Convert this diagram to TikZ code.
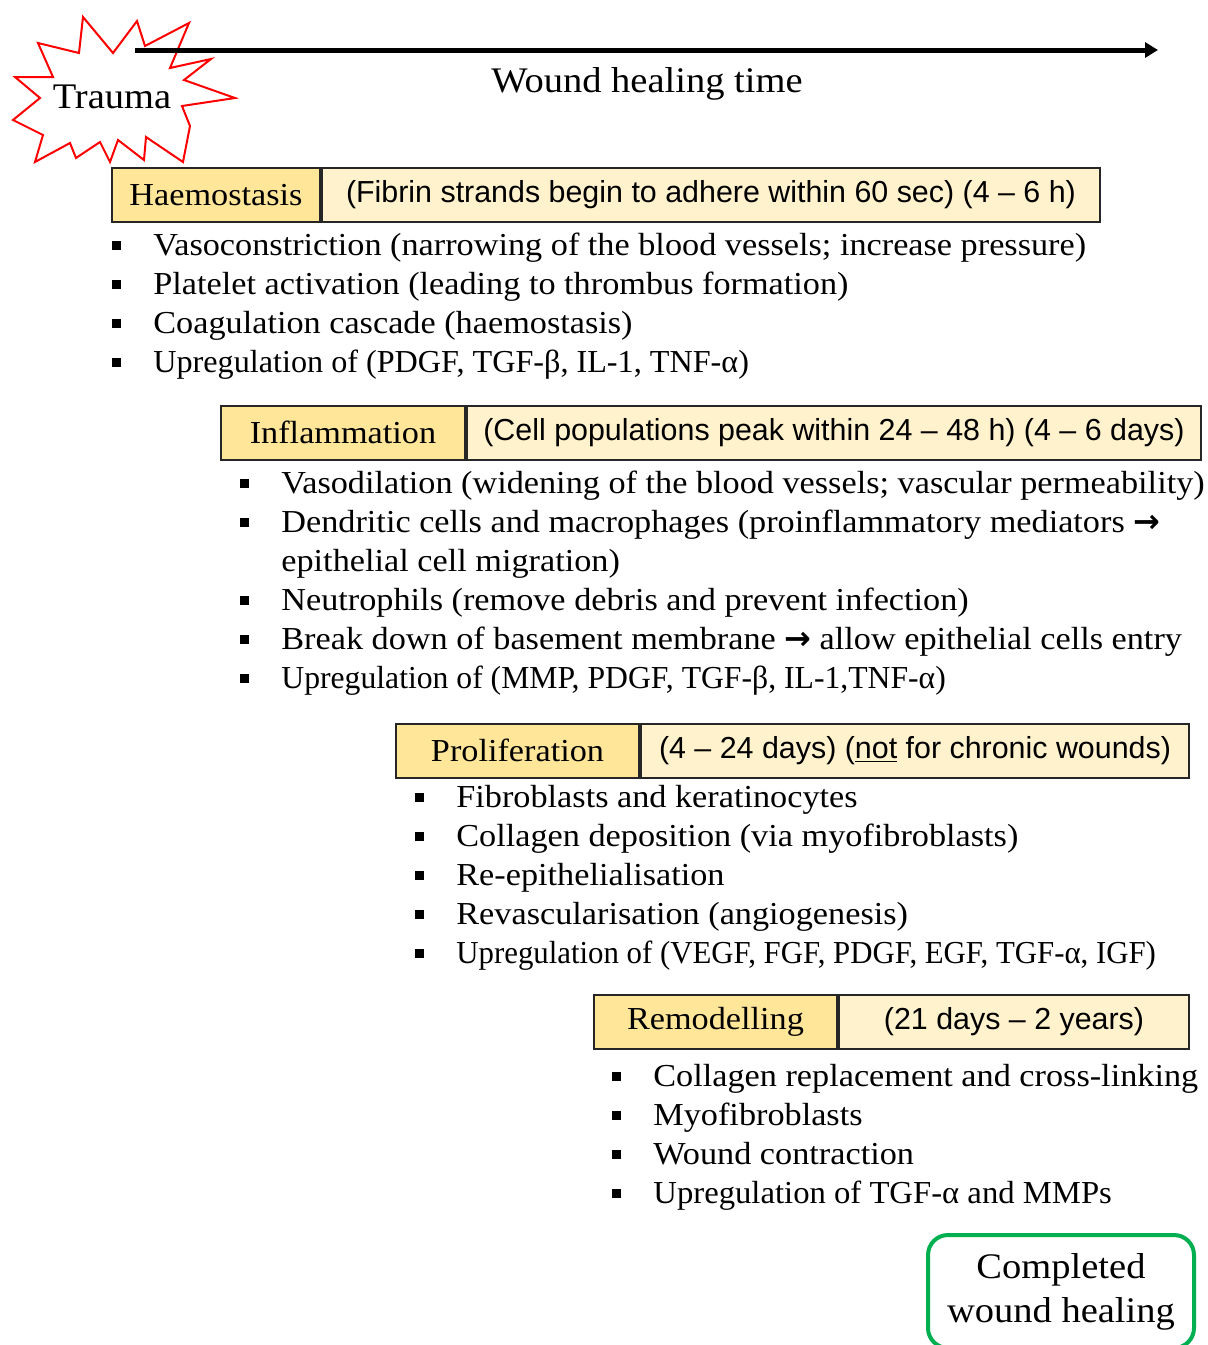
\documentclass[tikz,border=0pt]{standalone}
\usepackage{fontspec}
\setmainfont{Liberation Serif}[FakeStretch=1.07]
\setsansfont{Liberation Sans}
\newfontfamily\arrowfont{DejaVu Sans}
\usepackage{xcolor}
\usetikzlibrary{arrows.meta}

\definecolor{stagegold}{HTML}{FFE699}
\definecolor{stagecream}{HTML}{FFF2CC}
\definecolor{donegreen}{HTML}{00B050}

\newcommand{\bul}{\makebox[20.5pt][l]{\rule[2.5pt]{4.5pt}{4.5pt}}}
\newcommand{\cont}{\hspace*{20.5pt}}
\newcommand{\thento}{{\arrowfont\bfseries →}}
% capitals run wide in this face, so squeeze those lines a little
\newcommand{\narrow}[2]{\scalebox{#1}[1]{#2}}

\begin{document}
\begin{tikzpicture}[x=0.5pt,y=-0.5pt]
\tikzset{stage/.style={draw=black!85,line width=1pt,fill=stagegold,minimum height=27pt,inner sep=0pt,anchor=west,font=\fontsize{16}{18}\selectfont}}
\tikzset{period/.style={draw=black!85,line width=1pt,fill=stagecream,minimum height=27pt,inner sep=0pt,anchor=west,font=\sffamily\fontsize{15.2}{18}\selectfont}}
\tikzset{items/.style={anchor=base west,align=left,inner sep=0pt,font=\fontsize{16}{19.5}\selectfont}}
\tikzset{burst/.style={draw=red,line width=1pt,fill=white,line join=miter}}
\tikzset{timeline/.style={line width=2.5pt,-{Triangle[length=6.5pt,width=7.5pt]}}}
\tikzset{donebox/.style={draw=donegreen,line width=2pt,rounded corners=10pt,minimum width=133pt,minimum height=56.5pt,align=center,font=\fontsize{18}{22}\selectfont}}

\useasboundingbox (0,0) rectangle (1208,1345);

% trauma burst and time axis
\draw[burst] (83,17) -- (113,53) -- (137,21) -- (145,46) -- (189,23) -- (170,68)
  -- (211,59) -- (184,80) -- (235,98) -- (182,106) -- (190,126) -- (183,162)
  -- (146,137) -- (144,160) -- (118,140) -- (110,162) -- (100,142) -- (76,158)
  -- (70,143) -- (35,162) -- (43,135) -- (13,120) -- (40,98) -- (15,77)
  -- (53,77) -- (38,43) -- (79,53) -- cycle;
\coordinate (tstart) at (135,50);
\coordinate (tend) at (1158,50);
\draw[timeline] (tstart) -- (tend);
\node[font=\fontsize{18}{20}\selectfont] (trauma) at (112,97) {Trauma};
\node[font=\fontsize{18}{20}\selectfont] (axislabel) at (647,84) {Wound healing time};

% lists are placed by the baseline of their last line

% haemostasis
\node[stage,minimum width=104pt] (haem) at (111,195) {Haemostasis};
\node[period,minimum width=389pt] (haemtime) at (haem.east) {(Fibrin strands begin to adhere within 60 sec) (4 -- 6 h)};
\node[items] (haemlist) at (112,372) {\bul Vasoconstriction (narrowing of the blood vessels; increase pressure)\\
\bul Platelet activation (leading to thrombus formation)\\
\bul Coagulation cascade (haemostasis)\\
\bul \narrow{0.94}{Upregulation of (PDGF, TGF-β, IL-1, TNF-α)}};

% inflammation
\node[stage,minimum width=122pt] (infl) at (220,432.5) {Inflammation};
\node[period,minimum width=367pt] (infltime) at (infl.east) {(Cell populations peak within 24 -- 48 h) (4 -- 6 days)};
\node[items] (infllist) at (240,688) {\bul Vasodilation (widening of the blood vessels; vascular permeability)\\
\bul Dendritic cells and macrophages (proinflammatory mediators \thento\\
\cont epithelial cell migration)\\
\bul Neutrophils (remove debris and prevent infection)\\
\bul Break down of basement membrane \thento{} allow epithelial cells entry\\
\bul \narrow{0.925}{Upregulation of (MMP, PDGF, TGF-β, IL-1,TNF-α)}};

% proliferation
\node[stage,minimum width=121.5pt] (prol) at (395,750.5) {Proliferation};
\node[period,minimum width=274pt] (proltime) at (prol.east) {(4 -- 24 days) (\underline{not} for chronic wounds)};
\node[items] (prollist) at (415,963) {\bul Fibroblasts and keratinocytes\\
\bul Collagen deposition (via myofibroblasts)\\
\bul Re-epithelialisation\\
\bul Revascularisation (angiogenesis)\\
\bul \narrow{0.9}{Upregulation of (VEGF, FGF, PDGF, EGF, TGF-α, IGF)}};

% remodelling
\node[stage,minimum width=121.5pt] (remo) at (593,1022) {Remodelling};
\node[period,minimum width=175pt] (remotime) at (remo.east) {(21 days -- 2 years)};
\node[items] (remolist) at (612,1203) {\bul Collagen replacement and cross-linking\\
\bul Myofibroblasts\\
\bul Wound contraction\\
\bul \narrow{0.955}{Upregulation of TGF-α and MMPs}};

\node[donebox] (done) at (1061,1291.5) {Completed\\wound healing};

\end{tikzpicture}
\end{document}
